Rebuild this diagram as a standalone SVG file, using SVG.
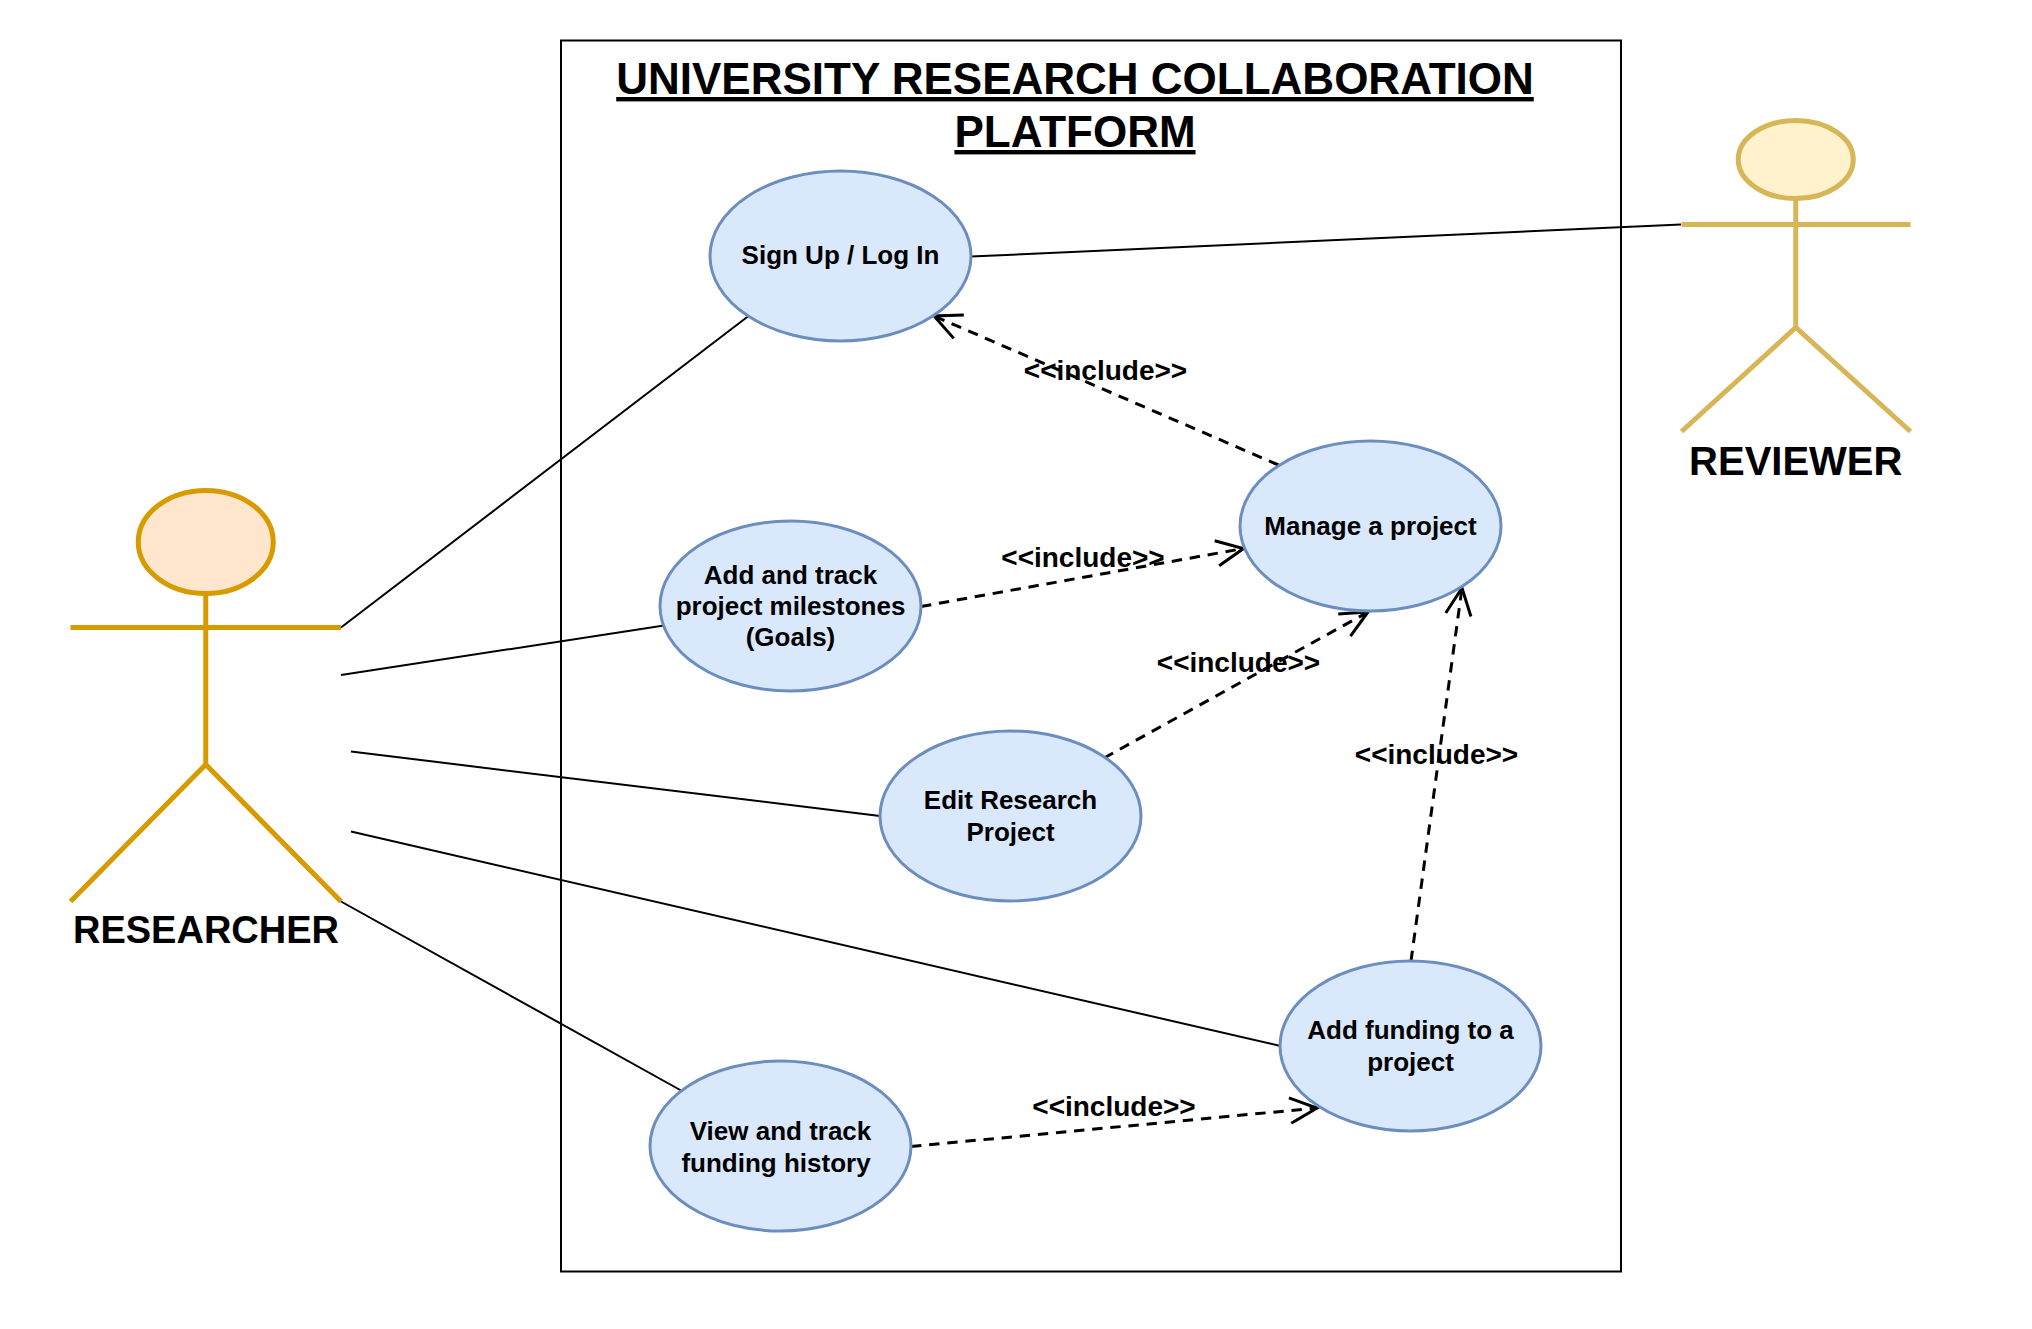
<svg xmlns="http://www.w3.org/2000/svg" width="2032" height="1329" viewBox="0 0 2032 1329">
  <style>
    text { font-family: "Liberation Sans", Arial, sans-serif; font-weight: bold; fill: #000; text-anchor: middle; }
    .title { font-size: 44px; text-decoration: underline; }
    .actor-label { font-size: 40px; }
    .uc { fill: #dae8fc; stroke: #6c8ebf; stroke-width: 3; }
    .uc-text { font-size: 26px; }
    .inc { font-size: 28px; }
    .assoc { stroke: #000; stroke-width: 2; fill: none; }
    .dep { stroke: #000; stroke-width: 3; fill: none; stroke-dasharray: 10.4 7.8; }
    .head { stroke: #000; stroke-width: 3; fill: none; }
    .res { stroke: #d79b00; stroke-width: 5; fill: none; }
    .rev { stroke: #d6b656; stroke-width: 5; fill: none; }
  </style>
  <defs>
    <marker id="open" markerUnits="userSpaceOnUse" markerWidth="40" markerHeight="40" refX="30" refY="20" orient="auto" overflow="visible">
      <path class="head" d="M3 7.3 L30 20 L3 32.7"/>
    </marker>
  </defs>
  <rect id="frame" x="561" y="40.5" width="1060" height="1231" fill="#fff" stroke="#000" stroke-width="2"/>
  <g id="title">
    <text class="title" x="1075" y="94">UNIVERSITY RESEARCH COLLABORATION</text>
    <text class="title" x="1075" y="147">PLATFORM</text>
  </g>
  <g id="connectors">
    <line class="assoc" x1="341" y1="627.5" x2="748.5" y2="316"/>
    <line class="assoc" x1="341" y1="675" x2="664" y2="625.5"/>
    <line class="assoc" x1="351" y1="751.5" x2="880" y2="816"/>
    <line class="assoc" x1="351" y1="831.5" x2="1280.5" y2="1046"/>
    <line class="assoc" x1="341" y1="901.5" x2="682" y2="1091"/>
    <line class="assoc" x1="971" y1="256.5" x2="1681" y2="224.5"/>
    <line class="dep" marker-end="url(#open)" x1="1278.5" y1="465" x2="934" y2="316"/>
    <line class="dep" marker-end="url(#open)" x1="921" y1="606.5" x2="1243.5" y2="548.5"/>
    <line class="dep" marker-end="url(#open)" x1="1104" y1="758" x2="1368" y2="612"/>
    <line class="dep" marker-end="url(#open)" x1="1411" y1="961" x2="1462" y2="588"/>
    <line class="dep" marker-end="url(#open)" x1="911" y1="1146.5" x2="1317" y2="1108"/>
  </g>
  <g id="uc-signup"><ellipse class="uc" cx="840.5" cy="256" rx="130.5" ry="85"/><text class="uc-text" x="840.5" y="264">Sign Up / Log In</text></g>
  <g id="uc-milestones"><ellipse class="uc" cx="790.5" cy="606" rx="130.5" ry="85"/><text class="uc-text" x="790.5" y="584">Add and track</text><text class="uc-text" x="790.5" y="614.5">project milestones</text><text class="uc-text" x="790.5" y="646">(Goals)</text></g>
  <g id="uc-manage"><ellipse class="uc" cx="1370.5" cy="526" rx="130.5" ry="85"/><text class="uc-text" x="1370.5" y="535">Manage a project</text></g>
  <g id="uc-edit"><ellipse class="uc" cx="1010.5" cy="816" rx="130.5" ry="85"/><text class="uc-text" x="1010.5" y="809">Edit Research</text><text class="uc-text" x="1010.5" y="841">Project</text></g>
  <g id="uc-funding"><ellipse class="uc" cx="1410.5" cy="1046" rx="130.5" ry="85"/><text class="uc-text" x="1410.5" y="1039">Add funding to a</text><text class="uc-text" x="1410.5" y="1071">project</text></g>
  <g id="uc-history"><ellipse class="uc" cx="780.5" cy="1146" rx="130.5" ry="85"/><text class="uc-text" x="780.5" y="1140">View and track</text><text class="uc-text" x="776" y="1172">funding history</text></g>
  <g id="include-labels">
    <text class="inc" x="1105.5" y="380">&lt;&lt;include&gt;&gt;</text>
    <text class="inc" x="1083" y="567">&lt;&lt;include&gt;&gt;</text>
    <text class="inc" x="1238.5" y="672">&lt;&lt;include&gt;&gt;</text>
    <text class="inc" x="1436.5" y="764">&lt;&lt;include&gt;&gt;</text>
    <text class="inc" x="1114" y="1116">&lt;&lt;include&gt;&gt;</text>
  </g>
  <g id="actor-researcher">
    <ellipse cx="205.75" cy="542" rx="67.5" ry="51.5" fill="#ffe6cc" stroke="#d79b00" stroke-width="5"/>
    <path class="res" d="M205.75 593.5V764.5M70.5 627.5H341M70.5 901.5L205.75 764.5L341 901.5"/>
    <text class="actor-label" style="font-size:38px" x="206" y="943">RESEARCHER</text>
  </g>
  <g id="actor-reviewer">
    <ellipse cx="1795.75" cy="159.5" rx="57.5" ry="39" fill="#fff2cc" stroke="#d6b656" stroke-width="5"/>
    <path class="rev" d="M1795.75 198.5V327.5M1681.5 224.5H1910.5M1681.5 431.5L1795.75 327.5L1910.5 431.5"/>
    <text class="actor-label" x="1795.75" y="475">REVIEWER</text>
  </g>
</svg>
